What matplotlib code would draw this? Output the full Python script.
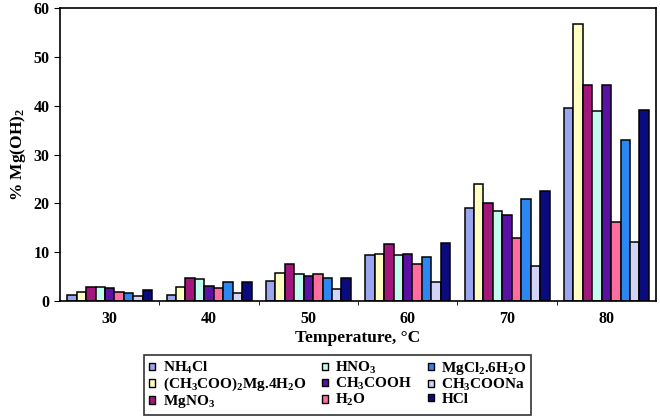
import numpy as np
import matplotlib
matplotlib.use('Agg')
import matplotlib.pyplot as plt
from matplotlib.patches import Patch

plt.rcParams['font.family'] = ['Liberation Serif', 'DejaVu Serif']
plt.rcParams['font.weight'] = 'bold'
plt.rcParams['mathtext.fontset'] = 'custom'
plt.rcParams['mathtext.rm'] = 'Liberation Serif:bold'
plt.rcParams['mathtext.it'] = 'Liberation Serif:bold'
plt.rcParams['mathtext.bf'] = 'Liberation Serif:bold'

temps = ['30', '40', '50', '60', '70', '80']

# series in the order the bars appear inside each group
names = [r'NH$_4$Cl', r'(CH$_3$COO)$_2$Mg.4H$_2$O', r'MgNO$_3$',
         r'HNO$_3$', r'CH$_3$COOH', r'H$_2$O',
         r'MgCl$_2$.6H$_2$O', r'CH$_3$COONa', 'HCl']
colors = ['#9ba6ee', '#ffffc2', '#a3177c', '#c4fbef', '#5b11a3',
          '#ff6e9e', '#2b87f2', '#d3d3f7', '#0b0b80']

nh4cl = [1.2, 1.2, 4.1, 9.4, 19.0, 39.6]
mg_acetate = [1.9, 2.9, 5.7, 9.6, 23.9, 56.7]
mgno3 = [2.9, 4.7, 7.6, 11.7, 20.0, 44.2]
hno3 = [2.9, 4.5, 5.5, 9.4, 18.4, 38.9]
acetic = [2.6, 3.1, 5.2, 9.6, 17.6, 44.2]
water = [1.9, 2.6, 5.5, 7.5, 13.0, 16.2]
mgcl2 = [1.7, 4.0, 4.7, 9.1, 21.0, 33.0]
na_acetate = [1.1, 1.6, 2.4, 3.9, 7.2, 12.2]
hcl = [2.2, 4.0, 4.8, 12.0, 22.6, 39.2]

series = [nh4cl, mg_acetate, mgno3, hno3, acetic, water, mgcl2, na_acetate, hcl]

fig = plt.figure(figsize=(6.6, 4.2), dpi=100)
ax = fig.add_axes([0.091, 0.283, 0.903, 0.698])

x = np.arange(len(temps))
w = 0.095
for i, (vals, c) in enumerate(zip(series, colors)):
    ax.bar(x + (i - 4) * w, vals, width=w, color=c, edgecolor='black', linewidth=1.1)

ax.set_xlim(-0.5, 5.5)
ax.set_ylim(0, 60)
ax.set_yticks(range(0, 61, 10))
ax.set_xticks(x)
ax.set_xticklabels(temps)
ax.set_xticks(np.arange(0.5, 5.5, 1), minor=True)
ax.tick_params(axis='x', which='major', length=0, pad=7, labelsize=11.5)
ax.tick_params(axis='x', which='minor', length=3, direction='out')
ax.tick_params(axis='y', length=4, labelsize=11.5)
for s in ax.spines.values():
    s.set_linewidth(1.2)

ax.set_xlabel('Temperature, °C', fontsize=12.5, fontweight='bold', labelpad=2)
ax.set_ylabel('% Mg(OH)$_2$', fontsize=12.5, fontweight='bold', labelpad=4)

handles = [Patch(facecolor=c, edgecolor='black', linewidth=1.0, label=n)
           for n, c in zip(names, colors)]
leg = fig.legend(handles=handles, loc='center', bbox_to_anchor=(0.512, 0.083),
                 ncol=3, fontsize=11, frameon=True, fancybox=False,
                 handlelength=0.4, handleheight=0.4, handletextpad=0.5,
                 columnspacing=1.0, labelspacing=0.0, borderpad=0.3)
leg.get_frame().set_edgecolor('black')
leg.get_frame().set_linewidth(1.2)

fig.savefig('out.png', dpi=100)
